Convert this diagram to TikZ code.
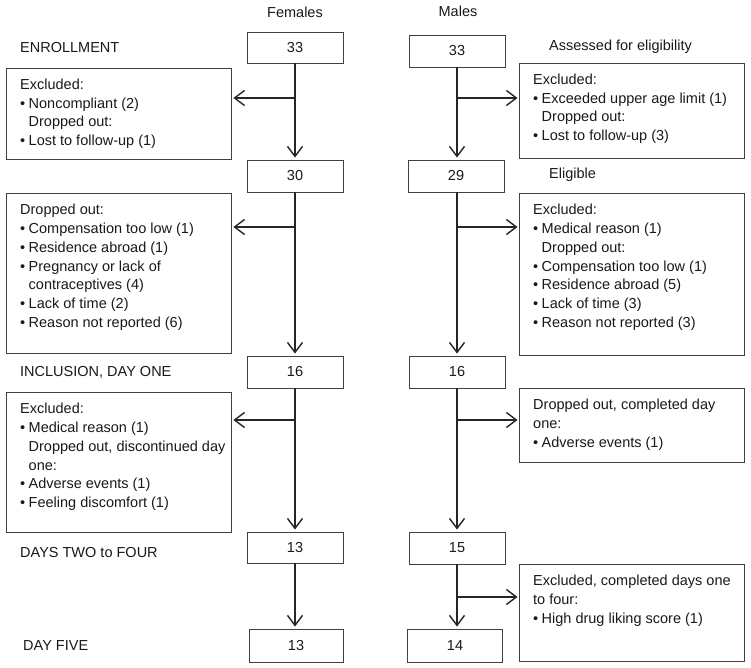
\documentclass[tikz,border=0pt]{standalone}
\usepackage{fontspec}
\setmainfont{Liberation Sans}
\usetikzlibrary{arrows.meta,calc}
\newcommand{\fcbul}{\makebox[8.5pt][l]{•}}
\newcommand{\fcind}{\hspace*{8.5pt}}
\begin{document}
\begin{tikzpicture}[x=1pt,y=-1pt,
  font=\fontsize{14.5}{18.8}\selectfont,
  numbox/.style={draw=black!75,line width=0.9pt,minimum width=96pt,minimum height=32pt,inner sep=0pt,text=black!90},
  infobox/.style={draw=black!75,line width=0.9pt,anchor=north west,inner sep=0pt,minimum width=225pt},
  infotext/.style={anchor=north west,inner sep=0pt,align=left,text=black!90},
  lbl/.style={anchor=west,inner sep=0pt,text=black!90},
  head/.style={inner sep=0pt,text=black!90},
  flow/.style={draw=black!85,line width=1.4pt,shorten >=2pt,-{Straight Barb[length=10pt,width=15pt,line width=1.4pt]}},
]
\useasboundingbox (0,0) rectangle (751,668);

% headings and row labels
\node[head] (hf) at (295,12) {Females};
\node[head] (hm) at (458,11) {Males};
\node[lbl] (l1) at (20,48) {ENROLLMENT};
\node[lbl] (l2) at (549,47) {Assessed for eligibility};
\node[lbl] (l3) at (549,175) {Eligible};
\node[lbl] (l4) at (20,372) {INCLUSION, DAY ONE};
\node[lbl] (l5) at (20,553) {DAYS TWO to FOUR};
\node[lbl] (l6) at (23,646) {DAY FIVE};

% number boxes
\node[numbox,minimum height=31pt] (f33) at (295,47.5) {33};
\node[numbox] (f30) at (295,176) {30};
\node[numbox] (f16) at (295,372) {16};
\node[numbox,minimum height=31pt] (f13) at (295,547.5) {13};
\node[numbox,minimum height=33pt,minimum width=94pt] (f13b) at (296,645.5) {13};

\node[numbox] (m33) at (457,51) {33};
\node[numbox] (m29) at (456,176) {29};
\node[numbox] (m16) at (457,372) {16};
\node[numbox] (m15) at (457,548) {15};
\node[numbox,minimum height=33pt,minimum width=95pt] (m14) at (455,645.5) {14};

% info boxes
\node[infobox,minimum height=91pt] (fx1) at (6,68) {};
\node[infobox,minimum height=160pt] (fx2) at (6,193) {};
\node[infobox,minimum height=140pt] (fx3) at (6,392) {};
\node[infobox,minimum height=95pt] (mx1) at (519,63) {};
\node[infobox,minimum height=162pt] (mx2) at (519,193) {};
\node[infobox,minimum height=74pt] (mx3) at (519,388) {};
\node[infobox,minimum height=97pt] (mx4) at (519,564) {};

\node[infotext] (tfx1) at ($(fx1.north west)+(14,10.5)$) {Excluded:\\ \fcbul Noncompliant (2)\\ \fcind Dropped out:\\ \fcbul Lost to follow-up (1)};
\node[infotext] (tfx2) at ($(fx2.north west)+(14,11)$) {Dropped out:\\ \fcbul Compensation too low (1)\\ \fcbul Residence abroad (1)\\ \fcbul Pregnancy or lack of\\ \fcind contraceptives (4)\\ \fcbul Lack of time (2)\\ \fcbul Reason not reported (6)};
\node[infotext] (tfx3) at ($(fx3.north west)+(14,11)$) {Excluded:\\ \fcbul Medical reason (1)\\ \fcind Dropped out, discontinued day\\ \fcind one:\\ \fcbul Adverse events (1)\\ \fcbul Feeling discomfort (1)};
\node[infotext] (tmx1) at ($(mx1.north west)+(14,10.5)$) {Excluded:\\ \fcbul Exceeded upper age limit (1)\\ \fcind Dropped out:\\ \fcbul Lost to follow-up (3)};
\node[infotext] (tmx2) at ($(mx2.north west)+(14,11)$) {Excluded:\\ \fcbul Medical reason (1)\\ \fcind Dropped out:\\ \fcbul Compensation too low (1)\\ \fcbul Residence abroad (5)\\ \fcbul Lack of time (3)\\ \fcbul Reason not reported (3)};
\node[infotext] (tmx3) at ($(mx3.north west)+(14,11)$) {Dropped out, completed day\\ one:\\ \fcbul Adverse events (1)};
\node[infotext] (tmx4) at ($(mx4.north west)+(14,11)$) {Excluded, completed days one\\ to four:\\ \fcbul High drug liking score (1)};

% branch points
\coordinate (bf1) at (295,98);
\coordinate (bf2) at (295,227);
\coordinate (bf3) at (295,420);
\coordinate (bm1) at (457,98);
\coordinate (bm2) at (457,227);
\coordinate (bm3) at (457,420);
\coordinate (bm4) at (457,597);

% vertical flows
\draw[flow] (f33) -- (f30);
\draw[flow] (f30) -- (f16);
\draw[flow] (f16) -- (f13);
\draw[flow] (f13.south) -- (f13.south |- f13b.north);
\draw[flow] (m33) -- (m33.south |- m29.north);
\draw[flow] (m29.south -| m33.south) -- (m33.south |- m16.north);
\draw[flow] (m16) -- (m15);
\draw[flow] (m15.south) -- (m15.south |- m14.north);

% side flows
\draw[flow,shorten >=1.5pt] (bf1) -- (fx1.east |- bf1);
\draw[flow,shorten >=1.5pt] (bf2) -- (fx2.east |- bf2);
\draw[flow,shorten >=1.5pt] (bf3) -- (fx3.east |- bf3);
\draw[flow,shorten >=1.5pt] (bm1) -- (mx1.west |- bm1);
\draw[flow,shorten >=1.5pt] (bm2) -- (mx2.west |- bm2);
\draw[flow,shorten >=1.5pt] (bm3) -- (mx3.west |- bm3);
\draw[flow,shorten >=1.5pt] (bm4) -- (mx4.west |- bm4);
\end{tikzpicture}
\end{document}
